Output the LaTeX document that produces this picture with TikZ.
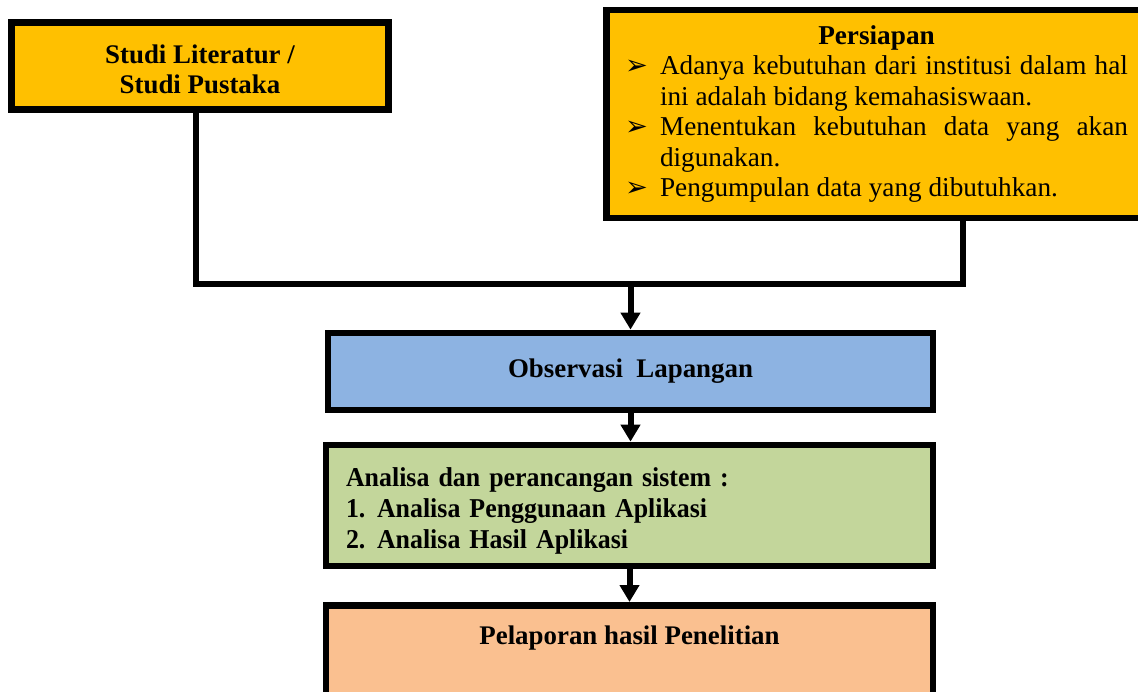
\documentclass[tikz,border=0pt]{standalone}
\usepackage{fontspec}
\setmainfont{Liberation Serif}
\newfontfamily\symfont{DejaVu Sans}
\newfontfamily\narrowfont[FakeStretch=0.95]{Liberation Serif}
\usetikzlibrary{arrows.meta}
\usepackage{xcolor}
\definecolor{gold}{HTML}{FFC000}
\definecolor{skyblue}{HTML}{8DB3E2}
\definecolor{sage}{HTML}{C3D69B}
\definecolor{peach}{HTML}{FAC090}

\newcommand{\boxfont}{\fontsize{15.3}{17.4}\selectfont}
\newcommand{\prepitem}[1]{\par\hangindent=0.7cm\hangafter=1\noindent\makebox[0.7cm][l]{\symfont\char"27A2}#1}
\newcommand{\numitem}[2]{\makebox[0.62cm][l]{#1}#2}

\begin{document}
\begin{tikzpicture}[x=0.02cm, y=-0.02cm,
        box/.style={draw, line width=0.135cm, line join=miter, font=\boxfont},
        boldbox/.style={box, font=\boxfont\bfseries},
        link/.style={line width=0.12cm, line join=miter},
        arr/.style={link, -{Triangle[width=0.38cm, length=0.34cm]}}]
        \useasboundingbox (0,0) rectangle (1138,692);

        % top boxes
        \node[boldbox, fill=gold, minimum width=7.55cm, minimum height=1.75cm, align=center] (studi) at (200,66) {\rule{0pt}{0.5cm}Studi Literatur /\\Studi Pustaka};
        \node[box, fill=gold, minimum width=10.8cm, minimum height=4.16cm, text width=10.06cm, inner xsep=0.37cm, align=justify, font=\fontsize{15.5}{17.4}\selectfont] (prep) at (876.5,114) {%
            \centerline{\bfseries Persiapan}
            \prepitem{Adanya kebutuhan dari institusi dalam hal\linebreak ini adalah bidang kemahasiswaan.}
            \prepitem{Menentukan kebutuhan data yang akan\linebreak digunakan.}
            \prepitem{Pengumpulan data yang dibutuhkan.}};

        % steps
        \node[boldbox, fill=skyblue, minimum width=12.1cm, minimum height=1.54cm] (obs) at (630.5,371.5) {Observasi\ \ Lapangan};
        \node[boldbox, fill=sage, minimum height=2.42cm, text width=11.34cm, inner xsep=0.4cm, align=left, font=\fontsize{15.5}{17.8}\selectfont\narrowfont\bfseries] (ana) at (629.5,505.5) {\rule{0pt}{0.6cm}Analisa dan perancangan sistem :\\
            \numitem{1.}{Analisa Penggunaan Aplikasi}\\
            \numitem{2.}{Analisa Hasil Aplikasi}};
        \node[boldbox, fill=peach, anchor=north, minimum width=12.14cm, text height=0.4cm, text depth=1.14cm, inner ysep=0.38cm] (pel) at (629.5,602) {Pelaporan hasil Penelitian};

        % connectors
        \coordinate (lj) at (196,284);
        \coordinate (rj) at (963,284);
        \draw[link] (studi.south -| lj) -- (lj) -- (rj) -- (prep.south -| rj);
        \draw[arr] (obs.north |- lj) -- (obs.north);
        \draw[arr] (obs.south) -- (obs.south |- ana.north);
        \draw[arr] (ana.south) -- (ana.south |- pel.north);
\end{tikzpicture}
\end{document}
